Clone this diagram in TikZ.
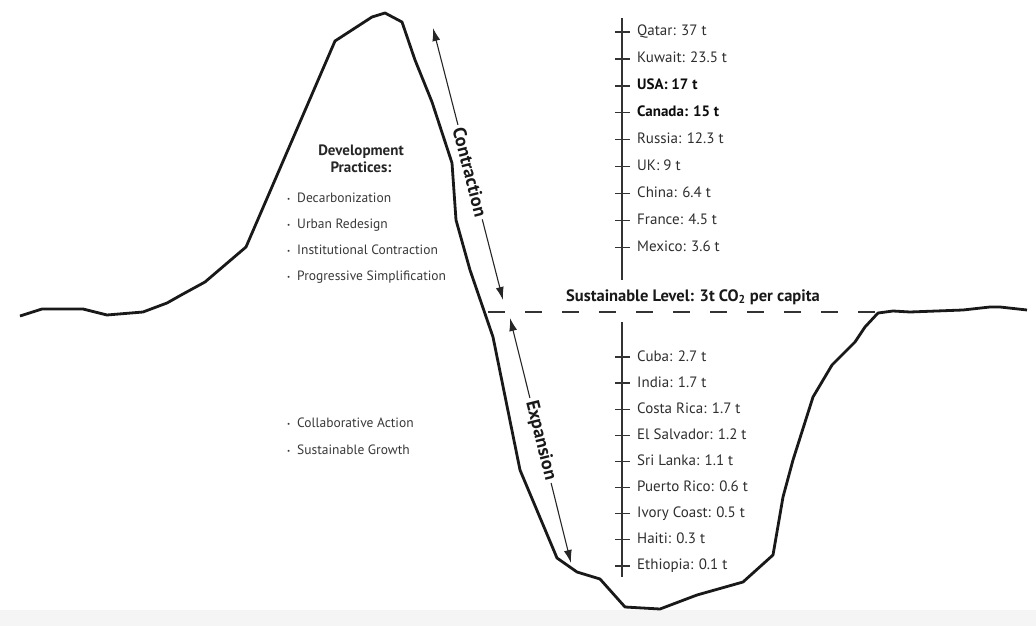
\documentclass[tikz,border=0pt]{standalone}
\usepackage{fontspec}
\setmainfont{PT Sans}
\usetikzlibrary{arrows.meta,positioning}

\newcommand{\dotitem}{\makebox[10pt][l]{\raisebox{1.5pt}{\fontsize{7}{7}\selectfont\textbullet}}}

\begin{document}
\begin{tikzpicture}[x=1pt, y=-1pt, >={Latex[length=13pt, width=8pt]}, node distance=26.9pt]
	    \tikzstyle{curve}=[line width=2.8pt, line join=round, black!90]
	    \tikzstyle{axis}=[line width=1.4pt, black!80]
	    \tikzstyle{country}=[anchor=west, inner sep=2pt, text height=11pt, text depth=3pt, text=black!82, font=\fontsize{15}{18}\selectfont]
	    \tikzstyle{bigcountry}=[country, text=black!95, font=\fontsize{15}{18}\selectfont\bfseries]
	    \tikzstyle{practice}=[anchor=west, inner sep=0pt, text height=10pt, text depth=3pt, text=black!78, font=\fontsize{13.5}{16}\selectfont]
	    \tikzstyle{span}=[<->, line width=1.1pt, black!85]
	    \tikzstyle{spanlabel}=[sloped, fill=white, inner sep=3pt, text=black!90, font=\fontsize{18.5}{21}\selectfont\bfseries]

	    \fill[black!4] (0,610) rectangle (1036,626);
	    \useasboundingbox (0,0) rectangle (1036,626);

	    \draw[curve] plot coordinates {(20,316) (42,309) (83,309) (107,315) (143,312) (167,303) (183,294) (205,282) (246,247) (335,41) (372,17) (385,13) (402,22) (415,60) (432,102) (452,163) (456,220) (470,270) (493,337) (520,470) (557,558) (577,572) (600,579) (625,607) (660,609) (697,595) (743,582) (773,555) (783,497) (793,460) (813,397) (832,365) (855,342) (865,327) (878,313) (893,311) (910,312) (963,310) (990,307) (1000,307) (1027,310)};

	    \coordinate (dash start) at (488,312);
	    \coordinate (dash end) at (878,312);
	    \draw[axis, dash pattern=on 17pt off 20pt] (dash start) -- (dash end);
	    \node[text=black!90, font=\fontsize{16.5}{19}\selectfont\bfseries] (level) at (693,297) {Sustainable Level: 3t CO\textsubscript{2} per capita};

	    \coordinate (con top) at (433,28);
	    \coordinate (con bot) at (503,300);
	    \coordinate (exp top) at (510,318);
	    \coordinate (exp bot) at (571,563);
	    \draw[span] (con top) -- node[spanlabel, pos=0.53] {Contraction} (con bot);
	    \draw[span] (exp top) -- node[spanlabel, pos=0.5] {Expansion} (exp bot);

	    \node[align=center, text=black!85, font=\fontsize{15}{16.5}\selectfont\bfseries] (practices) at (361,159) {Development\\Practices:};
	    \node[practice] (decarb) at (287,199) {\dotitem Decarbonization};
	    \node[practice] (urban) [below=26pt of decarb.west, anchor=west] {\dotitem Urban Redesign};
	    \node[practice] (institution) [below=26pt of urban.west, anchor=west] {\dotitem Institutional Contraction};
	    \node[practice] (simplify) [below=26pt of institution.west, anchor=west] {\dotitem Progressive Simplification};
	    \node[practice] (collab) at (287,424) {\dotitem Collaborative Action};
	    \node[practice] (growth) [below=27pt of collab.west, anchor=west] {\dotitem Sustainable Growth};

	    \coordinate (high top) at (622,18);
	    \coordinate (high bot) at (622,280);
	    \draw[axis] (high top) -- (high bot);
	    \node[country] (qatar) at (635,32) {Qatar: 37 t};
	    \node[country] (kuwait) [below=of qatar.west, anchor=west] {Kuwait: 23.5 t};
	    \node[bigcountry] (usa) [below=of kuwait.west, anchor=west] {USA: 17 t};
	    \node[bigcountry] (canada) [below=of usa.west, anchor=west] {Canada: 15 t};
	    \node[country] (russia) [below=of canada.west, anchor=west] {Russia: 12.3 t};
	    \node[country] (uk) [below=of russia.west, anchor=west] {UK: 9 t};
	    \node[country] (china) [below=of uk.west, anchor=west] {China: 6.4 t};
	    \node[country] (france) [below=of china.west, anchor=west] {France: 4.5 t};
	    \node[country] (mexico) [below=of france.west, anchor=west] {Mexico: 3.6 t};

	    \coordinate (low top) at (622,322);
	    \coordinate (low bot) at (622,577);
	    \draw[axis] (low top) -- (low bot);
	    \begin{scope}[node distance=26.1pt]
	    \node[country] (cuba) at (635,357) {Cuba: 2.7 t};
	    \node[country] (india) [below=of cuba.west, anchor=west] {India: 1.7 t};
	    \node[country] (costa rica) [below=of india.west, anchor=west] {Costa Rica: 1.7 t};
	    \node[country] (el salvador) [below=of costa rica.west, anchor=west] {El Salvador: 1.2 t};
	    \node[country] (sri lanka) [below=of el salvador.west, anchor=west] {Sri Lanka: 1.1 t};
	    \node[country] (puerto rico) [below=of sri lanka.west, anchor=west] {Puerto Rico: 0.6 t};
	    \node[country] (ivory coast) [below=of puerto rico.west, anchor=west] {Ivory Coast: 0.5 t};
	    \node[country] (haiti) [below=of ivory coast.west, anchor=west] {Haiti: 0.3 t};
	    \node[country] (ethiopia) [below=of haiti.west, anchor=west] {Ethiopia: 0.1 t};
	    \end{scope}

	    \foreach \c in {qatar, kuwait, usa, canada, russia, uk, china, france, mexico, cuba, india, costa rica, el salvador, sri lanka, puerto rico, ivory coast, haiti, ethiopia}
	        \draw[axis] ([xshift=-20pt]\c.west) -- ([xshift=-5pt]\c.west);

\end{tikzpicture}
\end{document}
